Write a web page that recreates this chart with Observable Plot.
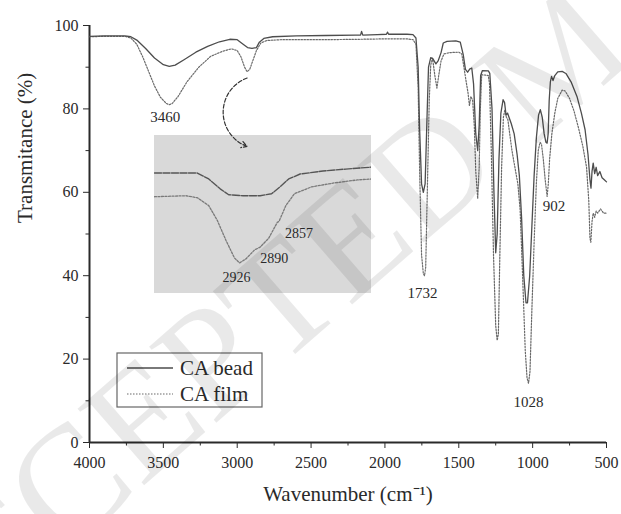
<!DOCTYPE html>
<html>
<head>
<meta charset="utf-8">
<script src="https://cdn.jsdelivr.net/npm/d3@7"></script>
<script src="https://cdn.jsdelivr.net/npm/@observablehq/plot@0.6"></script>
<style>
  body { margin: 0; background: #fff; }
  #chart { position: relative; width: 621px; height: 514px; font-family: "Liberation Serif", "Times New Roman", serif; }
  #chart > * { position: absolute; }
  #chart svg text { font-family: "Liberation Serif", "Times New Roman", serif; }
</style>
</head>
<body>
<div id="chart"></div>
<script>
// FTIR spectra of cellulose acetate, bead vs. film
const beadWavenumber = [4000,3900,3760,3720,3680,3620,3560,3500,3460,3420,3360,3280,3200,3120,3050,3000,2960,2930,2900,2870,2850,2820,2760,2600,2400,2200,2165,2158,2150,2050,1990,1982,1975,1850,1810,1790,1775,1765,1752,1740,1728,1715,1705,1690,1675,1655,1640,1620,1605,1580,1520,1490,1470,1455,1440,1425,1412,1400,1385,1372,1362,1352,1340,1300,1290,1275,1262,1250,1240,1228,1215,1200,1190,1180,1170,1160,1145,1125,1105,1090,1075,1060,1045,1035,1020,1005,990,975,960,948,935,922,910,902,895,888,880,872,862,850,830,800,775,740,700,670,645,625,612,605,598,590,580,570,560,545,530,515,500];
const beadTransmittance = [97.4,97.5,97.5,97.3,96.5,94.5,92.2,90.6,90.2,90.5,91.8,93.6,95.0,96.1,96.7,96.6,95.5,94.7,94.5,94.7,96.0,96.9,97.3,97.5,97.6,97.7,97.7,98.6,97.7,97.8,97.9,98.4,97.9,97.9,97.8,97.0,90,75,62,60,62,78,90,92.3,92.0,90.8,91.5,93.5,95.8,96.2,96.3,96.0,93,89.5,88.8,89.6,89.8,86,74,70,76,88,89.2,89.1,88.5,80,60,45.5,50,68,79,82.2,81.5,78.5,79,78,76.5,74,69,64,54,40,33.5,33.5,40,52,64,73,78.5,79.8,78,74,72,71.8,74,82,86.5,87.8,86.8,88,88.9,89,88.5,86.5,83,79,75,69,63,61,65,67,64.5,66,64,65,63.5,63,62.5];

const filmWavenumber = [4000,3900,3760,3720,3680,3640,3600,3560,3520,3480,3460,3440,3400,3340,3260,3180,3100,3040,3000,2975,2950,2933,2915,2895,2870,2840,2800,2700,2400,2160,2000,1850,1810,1790,1775,1765,1752,1740,1732,1724,1712,1700,1690,1678,1662,1648,1636,1620,1600,1560,1500,1480,1465,1450,1438,1428,1418,1406,1395,1385,1372,1362,1354,1345,1300,1292,1280,1265,1250,1240,1232,1222,1210,1198,1188,1178,1168,1155,1140,1120,1100,1085,1068,1050,1038,1028,1018,1005,990,975,962,950,940,928,915,902,894,885,870,850,830,800,780,750,720,690,660,635,620,612,606,598,590,580,570,560,540,520,500];
const filmTransmittance = [97.3,97.4,97.4,97.0,95.5,92.5,89.0,85.5,82.8,81.3,81.0,81.3,83.0,86.5,90.0,92.6,93.8,94.4,94.0,92.5,90.0,88.9,89.5,91.5,94.0,95.8,96.4,96.6,96.6,96.7,96.8,96.8,96.6,95.5,85,65,45,40.5,40.0,42,62,82,90.5,92.2,88,85,88,91.5,93.2,93.5,93.6,93.2,90,86.5,84,80.8,83,82,76,65,58.5,66,80,88.2,88.0,86,70,45,28,24.5,26,45,66,78,79.8,78,77.5,74,70,66,62,56,40,22,15.5,14.2,17,32,48,62,70,72,71.5,68,63,59,62,68,74,79,82.5,84.5,84.3,82.5,79.5,75.5,71,66,58,49,48,53,55,54,55.5,55,56,55,55];

// Enlarged C–H stretching region (inset)
const insetBeadWavenumber = [3075,3000,2980,2960,2945,2920,2890,2870,2855,2840,2820,2780,2740,2695];
const insetBeadTransmittance = [96.2,96.2,95.6,94.6,94.0,93.9,93.9,94.1,94.8,95.6,96.1,96.4,96.6,96.8];
const insetFilmWavenumber = [3075,3020,3000,2980,2965,2950,2935,2926,2915,2900,2890,2875,2860,2857,2845,2830,2800,2760,2720,2695];
const insetFilmTransmittance = [93.8,93.9,93.7,92.9,91.4,89.4,87.6,87.1,87.5,88.4,88.7,89.6,91.2,91.3,92.9,94.1,94.8,95.2,95.5,95.6];

const peakLabels = [3460, 1732, 1028, 902];
const insetPeakLabels = [2926, 2890, 2857];
const xMajorTicks = [4000,3500,3000,2500,2000,1500,1000,500];
const xMinorTicks = [3750,3250,2750,2250,1750,1250,750];
const yMajorTicks = [0,20,40,60,80,100];
const yMinorTicks = [10,30,50,70,90];
const seriesNames = ["CA bead", "CA film"];

const zip = (w, t) => w.map((wn, i) => ({wn, T: t[i]}));
const bead = zip(beadWavenumber, beadTransmittance);
const film = zip(filmWavenumber, filmTransmittance);
const insetBead = zip(insetBeadWavenumber, insetBeadTransmittance);
const insetFilm = zip(insetFilmWavenumber, insetFilmTransmittance);
const at = (series, wn) => series.find(d => d.wn === wn);

const ink = "#2a2a2a";
const beadStroke = "#4d4d4d";
const filmStroke = "#6a6a6a";
const serif = '"Liberation Serif", "Times New Roman", serif';

// label nudges (pixels) for the band annotations
const peakNudge = {3460: [-4, 12], 1732: [-2, 17], 1028: [0, 19], 902: [7, 10]};
const insetNudge = {2926: [-3, 15], 2890: [14, 11], 2857: [20, 12]};

const chart = document.getElementById("chart");

// Inset panel (drawn first so the main chart's arrow sits above it)
const inset = Plot.plot({
  width: 217, height: 158,
  marginTop: 0, marginRight: 0, marginBottom: 0, marginLeft: 0,
  x: {domain: [3075, 2695], axis: null},
  y: {domain: [84, 100], axis: null},
  style: {background: "#d9d9d9", fontFamily: serif, color: ink},
  marks: [
    Plot.line(insetBead, {x: "wn", y: "T", stroke: "#555", strokeWidth: 1.4, strokeDasharray: "7,1.5"}),
    Plot.line(insetFilm, {x: "wn", y: "T", stroke: "#7a7a7a", strokeWidth: 1.3, strokeDasharray: "2,1.5"}),
    ...insetPeakLabels.map(wn => Plot.text([at(insetFilm, wn)], {
      x: "wn", y: "T", text: d => String(d.wn),
      dx: insetNudge[wn][0], dy: insetNudge[wn][1],
      fontSize: 14, fill: ink
    }))
  ]
});
inset.style.left = "154px";
inset.style.top = "135px";
chart.appendChild(inset);

const dipNear2930 = film.filter(d => d.wn < 3000 && d.wn > 2800).reduce((a, b) => (b.T < a.T ? b : a));

const main = Plot.plot({
  width: 621, height: 514,
  marginTop: 25, marginRight: 15, marginBottom: 72, marginLeft: 89,
  x: {domain: [4000, 500]},
  y: {domain: [0, 100]},
  style: {fontFamily: serif, fontSize: "16px", color: ink, background: "transparent"},
  marks: [
    Plot.axisX({ticks: xMajorTicks, tickSize: 6, tickPadding: 8, tickFormat: d => String(d), label: null, fontSize: 16}),
    Plot.axisX({ticks: xMinorTicks, tickSize: 3.5, tickFormat: () => "", label: null}),
    Plot.axisY({ticks: yMajorTicks, tickSize: 6, tickPadding: 5, tickFormat: d => String(d), label: null, fontSize: 16}),
    Plot.axisY({ticks: yMinorTicks, tickSize: 3.5, tickFormat: () => "", label: null}),
    Plot.ruleY([0], {stroke: ink, strokeWidth: 2}),
    Plot.ruleX([4000], {stroke: ink, strokeWidth: 2}),
    Plot.line(film, {x: "wn", y: "T", stroke: filmStroke, strokeWidth: 1.2, strokeDasharray: "1.5,1.5"}),
    Plot.line(bead, {x: "wn", y: "T", stroke: beadStroke, strokeWidth: 1.3}),
    ...peakLabels.map(wn => Plot.text([at(film, wn)], {
      x: "wn", y: "T", text: d => String(d.wn),
      dx: peakNudge[wn][0], dy: peakNudge[wn][1],
      fontSize: 15, fill: ink
    })),
    Plot.arrow([dipNear2930], {
      x1: "wn", y1: d => d.T - 1.5, x2: "wn", y2: () => 71,
      bend: -70, stroke: "#333", strokeWidth: 1.2, strokeDasharray: "4,2", headLength: 8
    }),
    Plot.text(["Wavenumber (cm⁻¹)"], {frameAnchor: "bottom", dy: 58, fontSize: 21, fill: ink}),
    Plot.text(["Transmitance (%)"], {frameAnchor: "left", dx: -64, dy: -11, rotate: -90, fontSize: 21, fill: ink})
  ]
});
main.style.left = "0px";
main.style.top = "0px";
chart.appendChild(main);

// Legend box
const ns = "http://www.w3.org/2000/svg";
const legend = document.createElementNS(ns, "svg");
legend.setAttribute("width", 150);
legend.setAttribute("height", 58);
legend.style.left = "115px";
legend.style.top = "351px";
legend.innerHTML = `
  <rect x="2" y="2" width="145" height="54" fill="#fff" stroke="#666" stroke-width="1.2"/>
  <line x1="12" x2="58" y1="17" y2="17" stroke="${beadStroke}" stroke-width="1.3"/>
  <line x1="12" x2="58" y1="43" y2="43" stroke="${filmStroke}" stroke-width="1.2" stroke-dasharray="1.5,1.5"/>
  <text x="65" y="24" font-size="21" fill="${ink}">${seriesNames[0]}</text>
  <text x="65" y="50" font-size="21" fill="${ink}">${seriesNames[1]}</text>`;
chart.appendChild(legend);

// Manuscript stamp across the figure
const stamp = document.createElementNS(ns, "svg");
stamp.setAttribute("width", 621);
stamp.setAttribute("height", 514);
stamp.style.left = "0px";
stamp.style.top = "0px";
stamp.style.pointerEvents = "none";
stamp.innerHTML = `<text transform="translate(560,55) rotate(-41)" text-anchor="middle" dominant-baseline="central"
  font-size="155" fill="#000" fill-opacity="0.085">ACCEPTED MANUSCRIPT</text>`;
chart.appendChild(stamp);
</script>
</body>
</html>
